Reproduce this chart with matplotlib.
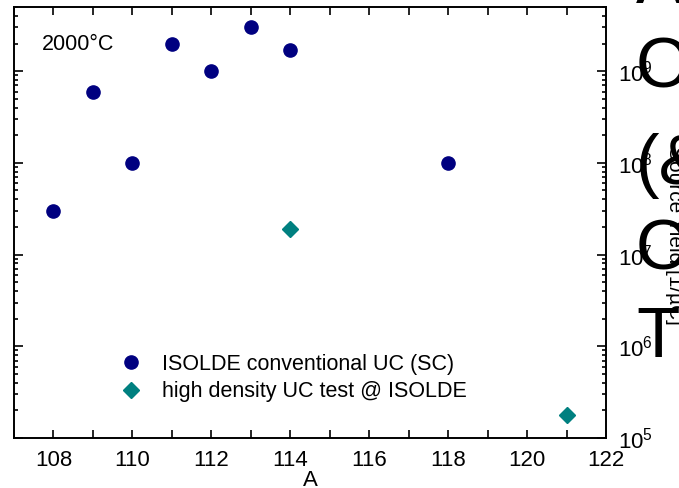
import numpy as np
import matplotlib
matplotlib.use("Agg")
import matplotlib.pyplot as plt
from matplotlib.ticker import LogLocator, MultipleLocator, NullFormatter

plt.rcParams['font.family'] = ['Liberation Sans', 'DejaVu Sans']
plt.rcParams['mathtext.fontset'] = 'custom'
plt.rcParams['mathtext.rm'] = 'Liberation Sans'
plt.rcParams['mathtext.it'] = 'Liberation Sans:italic'

# data
A_sc = [108, 109, 110, 111, 112, 113, 114, 118]
yield_sc = [3e7, 6e8, 1e8, 2e9, 1e9, 3e9, 1.7e9, 1e8]
A_hd = [114, 121]
yield_hd = [1.9e7, 1.8e5]

label_sc = "ISOLDE conventional UC (SC)"
label_hd = "high density UC test @ ISOLDE"

fig = plt.figure(figsize=(6.79, 4.88), dpi=100)
ax = fig.add_axes([14/679, 50/488, 592/679, 431/488])

ax.plot(A_sc, yield_sc, 'o', color='#000080', ms=9.5, label=label_sc)
ax.plot(A_hd, yield_hd, 'D', color='#008080', ms=8.5, label=label_hd)

ax.set_yscale('log')
ax.set_xlim(107, 122)
ax.set_ylim(1e5, 10**9.7)

ax.xaxis.set_major_locator(MultipleLocator(2))
ax.xaxis.set_minor_locator(MultipleLocator(1))
ax.yaxis.set_major_locator(LogLocator(base=10, numticks=10))
ax.yaxis.set_minor_locator(LogLocator(base=10, subs=np.arange(2, 10), numticks=10))
ax.yaxis.set_minor_formatter(NullFormatter())

ax.tick_params(which='both', direction='in', top=True, right=True,
               labelleft=False, labelright=True, width=1.2, labelsize=16, pad=9)
ax.tick_params(axis='x', which='both', length=6)
ax.tick_params(axis='y', which='major', length=6.5)
ax.tick_params(axis='y', which='minor', length=3)
for s in ax.spines.values():
    s.set_linewidth(1.4)

ax.set_xlabel("A", fontsize=16, labelpad=-1)
ax.text(0.047, 0.912, "2000°C", transform=ax.transAxes, fontsize=15.5, va='center')

ax.legend(loc='upper left', bbox_to_anchor=(0.170, 0.195), frameon=False,
          fontsize=15.5, handlelength=1.5, handletextpad=0.68, labelspacing=0.3,
          borderaxespad=0, borderpad=0, numpoints=1)

# leftovers of a label drawn over the right edge
big = ["A", "O", "(&", "O", "T"]
big_y = [-15, 69, 166, 252, 339]
for s, yy in zip(big, big_y):
    fig.text(636/679, 1 - yy/488, s, fontsize=51, va='center', ha='left')
fig.text(665/679, 1 - 235/488, "Source Yield [1/µC]", fontsize=15,
         rotation=270, va='center', ha='left')

fig.savefig("out.png", dpi=100)
